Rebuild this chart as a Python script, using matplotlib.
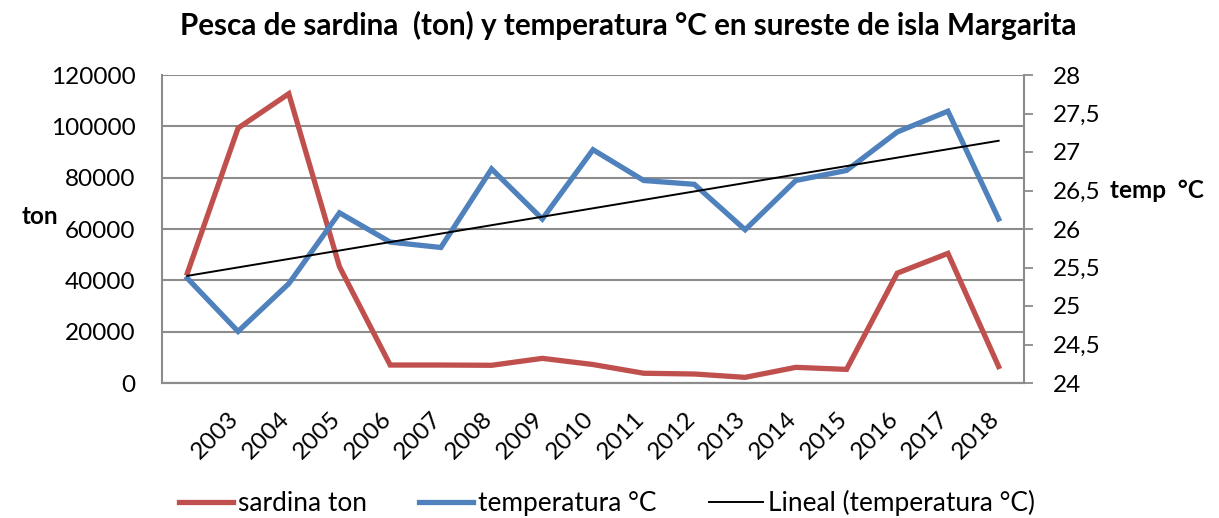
import numpy as np
import matplotlib
matplotlib.use("Agg")
import matplotlib.pyplot as plt
from matplotlib.transforms import ScaledTranslation
from matplotlib.lines import Line2D

# ---- data ----
years = ['2003', '2004', '2005', '2006', '2007', '2008', '2009', '2010',
         '2011', '2012', '2013', '2014', '2015', '2016', '2017', '2018']
categories = [''] + years  # first data point sits in an unlabeled slot
sardina_ton = [42800, 99300, 112700, 45300, 7000, 7000, 6900, 9600, 7200,
               3800, 3500, 2200, 6100, 5300, 42800, 50500, 6400]
temperatura = [25.36, 24.67, 25.29, 26.21, 25.83, 25.76, 26.78, 26.13, 27.03,
               26.63, 26.58, 25.99, 26.63, 26.76, 27.26, 27.53, 26.13]
left_ticks = [0, 20000, 40000, 60000, 80000, 100000, 120000]
right_ticks = [24, 24.5, 25, 25.5, 26, 26.5, 27, 27.5, 28]

RED = '#C0504D'
BLUE = '#4F81BD'
GRID = '#8C8C8C'
FONT = 'Lato'
FS = 17.5

plt.rcParams['font.family'] = [FONT, 'DejaVu Sans']

W, H = 1219, 518
fig = plt.figure(figsize=(W / 100, H / 100), dpi=100)
ax = fig.add_axes([162 / W, 1 - 383 / H, (1024 - 162) / W, (383 - 75) / H])
ax2 = ax.twinx()

x = np.arange(len(sardina_ton))
ax.plot(x, sardina_ton, color=RED, lw=3.8, solid_joinstyle='miter', zorder=3)
ax2.plot(x, temperatura, color=BLUE, lw=3.8, solid_joinstyle='miter', zorder=3)
coef = np.polyfit(x, temperatura, 1)
ax2.plot(x, np.polyval(coef, x), color='black', lw=1.4, zorder=4)

ax.set_xlim(-0.5, len(categories) - 0.5)
ax.set_ylim(0, 120000)
ax2.set_ylim(24, 28)

ax.set_yticks(left_ticks)
ax.set_yticklabels([str(v) for v in left_ticks], fontsize=FS)
ax.yaxis.grid(True, color=GRID, lw=1.5)
ax.set_axisbelow(True)
ax.tick_params(axis='y', length=0, pad=19)

ax2.set_yticks(right_ticks)
ax2.set_yticklabels([('%g' % v).replace('.', ',') for v in right_ticks], fontsize=FS)
ax2.tick_params(axis='y', length=6.5, width=1.3, color=GRID, pad=14)

ax.set_xticks(np.arange(1, len(categories)))
ax.set_xticklabels(categories[1:], fontsize=FS, rotation=45, ha='right', va='top')
ax.tick_params(axis='x', length=0, pad=18)
off = ScaledTranslation(5 / 100, 0, fig.dpi_scale_trans)
for lab in ax.get_xticklabels():
    lab.set_transform(lab.get_transform() + off)

for a in (ax, ax2):
    a.spines['top'].set_visible(False)
    for s in ('left', 'right', 'bottom'):
        a.spines[s].set_color(GRID)
        a.spines[s].set_linewidth(1.5)
ax2.spines['left'].set_visible(False)
ax.spines['right'].set_visible(False)

fig.text(628 / W, 1 - 25 / H, 'Pesca de sardina  (ton) y temperatura °C en sureste de isla Margarita',
         ha='center', va='center', fontsize=21.3, fontweight='bold')
fig.text(40 / W, 1 - 216 / H, 'ton', ha='center', va='center', fontsize=FS, fontweight='bold')
fig.text(1110 / W, 1 - 191 / H, 'temp  °C', ha='left', va='center', fontsize=FS, fontweight='bold')

handles = [Line2D([], [], color=RED, lw=3.8),
           Line2D([], [], color=BLUE, lw=3.8),
           Line2D([], [], color='black', lw=1.4)]
labels = ['sardina ton', 'temperatura °C', 'Lineal (temperatura °C)']
fig.legend(handles, labels, loc='center', bbox_to_anchor=(607 / W, 1 - 503 / H),
           ncol=3, frameon=False, fontsize=18.9, handlelength=2.05, handletextpad=0.2,
           columnspacing=2.0, borderaxespad=0, borderpad=0)

fig.savefig('out.png', dpi=100)
